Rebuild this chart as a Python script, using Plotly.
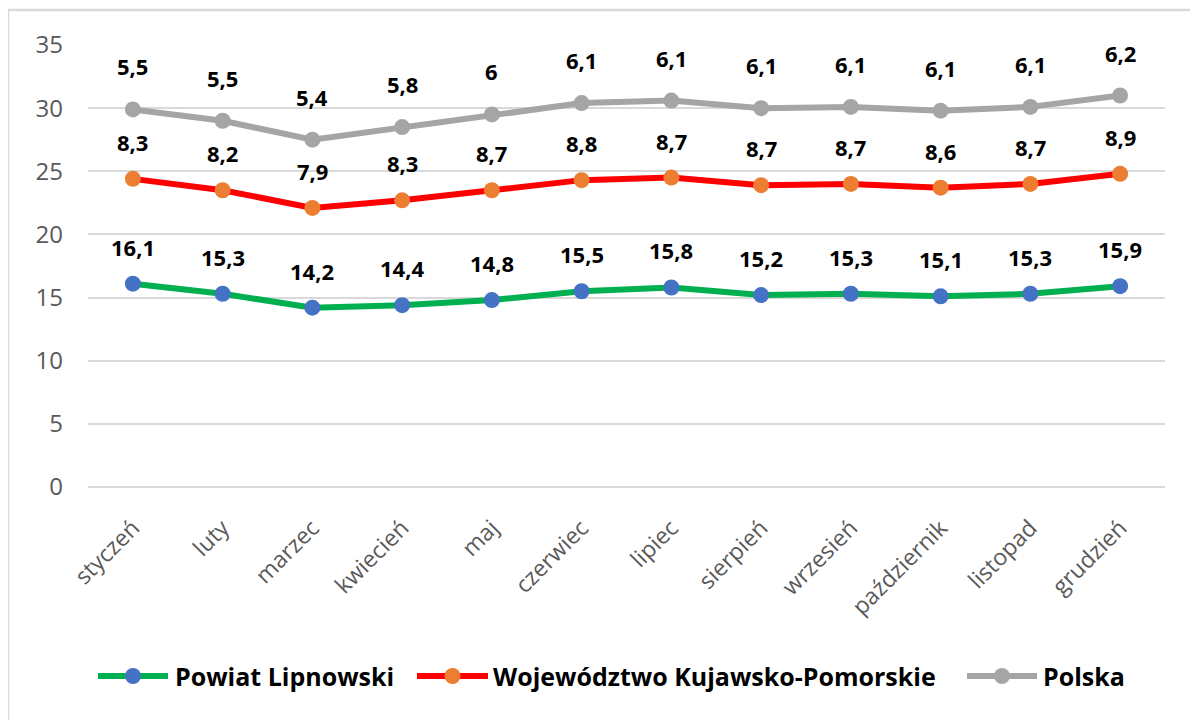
import numpy as np
import plotly.graph_objects as go

months = ["styczeń", "luty", "marzec", "kwiecień", "maj", "czerwiec", "lipiec",
          "sierpień", "wrzesień", "październik", "listopad", "grudzień"]
powiat = [16.1, 15.3, 14.2, 14.4, 14.8, 15.5, 15.8, 15.2, 15.3, 15.1, 15.3, 15.9]
wojewodztwo = [8.3, 8.2, 7.9, 8.3, 8.7, 8.8, 8.7, 8.7, 8.7, 8.6, 8.7, 8.9]
polska = [5.5, 5.5, 5.4, 5.8, 6.0, 6.1, 6.1, 6.1, 6.1, 6.1, 6.1, 6.2]
names = ["Powiat Lipnowski", "Województwo Kujawsko-Pomorskie", "Polska"]
y_ticks = [0, 5, 10, 15, 20, 25, 30, 35]

series = [powiat, wojewodztwo, polska]
line_colors = ["#00B050", "#FF0000", "#A5A5A5"]
marker_colors = ["#4472C4", "#ED7D31", "#A5A5A5"]
label_shift = [37, 37, 43]

FONT = "'Open Sans', Lato, sans-serif"

# plot area in page pixels (page has 8px body margin)
PX0, PX1, PY0, PY1 = 88, 1165, 45, 487


def px_x(p):
    return (p - PX0) / (PX1 - PX0)


def px_y(p):
    return (PY1 - p) / (PY1 - PY0)


def fmt(v):
    s = ("%.1f" % v).rstrip("0").rstrip(".")
    return s.replace(".", ",")


fig = go.Figure()
cum = np.zeros(len(months))
annotations = []
shapes = [dict(type="rect", xref="paper", yref="paper",
               x0=px_x(8), x1=px_x(1215), y0=px_y(740), y1=px_y(10),
               line=dict(color="#D9D9D9", width=2.5), layer="below")]

# manual legend geometry (line start, line end, text start) in page pixels
legend_items = [(98, 168, 173), (417, 488, 491), (967, 1037, 1041)]
LEG_Y = 676

for vals, name, lc, mc, sh, (l0, l1, t0) in zip(series, names, line_colors, marker_colors,
                                                label_shift, legend_items):
    cum = cum + np.array(vals)
    fig.add_trace(go.Scatter(
        x=months, y=cum, name=name, mode="lines+markers",
        line=dict(color=lc, width=6),
        marker=dict(color=mc, size=16),
        showlegend=False,
    ))
    for m, c, v in zip(months, cum, vals):
        annotations.append(dict(
            x=m, y=c, text="<b>" + fmt(v) + "</b>", showarrow=False,
            yshift=sh, font=dict(family=FONT, size=22, color="#000000"),
        ))
    # legend entry
    shapes.append(dict(type="line", xref="paper", yref="paper",
                       x0=px_x(l0), x1=px_x(l1), y0=px_y(LEG_Y), y1=px_y(LEG_Y),
                       line=dict(color=lc, width=6)))
    shapes.append(dict(type="circle", xref="paper", yref="paper",
                       xsizemode="pixel", ysizemode="pixel",
                       xanchor=px_x((l0 + l1) / 2), yanchor=px_y(LEG_Y),
                       x0=-8, x1=8, y0=-8, y1=8,
                       fillcolor=mc, line=dict(color=mc, width=0)))
    annotations.append(dict(
        xref="paper", yref="paper", x=px_x(t0), y=px_y(LEG_Y),
        xanchor="left", yanchor="middle", text="<b>" + name + "</b>",
        showarrow=False, font=dict(family=FONT, size=25, color="#000000"),
    ))

fig.update_layout(
    width=1198, height=720,
    margin=dict(l=80, r=41, t=37, b=241),
    paper_bgcolor="white", plot_bgcolor="white",
    showlegend=False,
    annotations=annotations,
    shapes=shapes,
)
fig.update_xaxes(
    type="category", range=[-0.5, 11.5], tickangle=-45, showgrid=False, zeroline=False,
    showline=False, tickfont=dict(family=FONT, size=23, color="#595959"), ticks="",
    ticklabelstandoff=22,
)
fig.update_yaxes(
    range=[0, 35], tickvals=y_ticks, showgrid=True, gridcolor="#D9D9D9", gridwidth=1.5,
    zeroline=True, zerolinecolor="#D9D9D9", zerolinewidth=1.5, showline=False,
    tickfont=dict(family=FONT, size=24, color="#595959"), ticks="", ticklabelstandoff=24,
)

fig.write_html("out.html")
